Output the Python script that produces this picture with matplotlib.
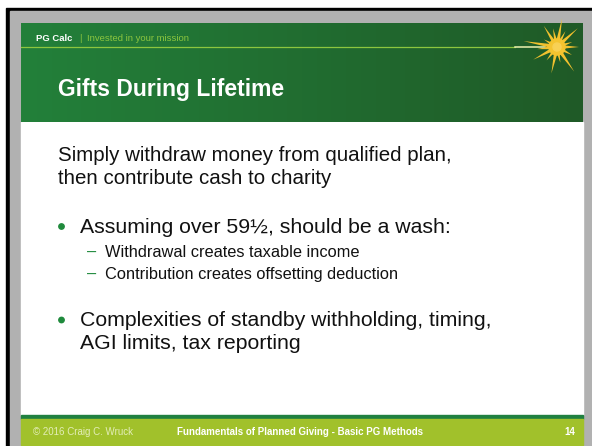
import numpy as np
import matplotlib.pyplot as plt
from matplotlib.patches import Rectangle, Polygon, Circle

plt.rcParams['font.family'] = ['Liberation Sans', 'DejaVu Sans']

# slide text
brand = 'PG Calc'
tagline = 'Invested in your mission'
title = 'Gifts During Lifetime'
intro_lines = ['Simply withdraw money from qualified plan,',
               'then contribute cash to charity']
bullet_1 = 'Assuming over 59\u00bd, should be a wash:'
sub_items = ['Withdrawal creates taxable income',
             'Contribution creates offsetting deduction']
bullet_2 = ['Complexities of standby withholding, timing,',
            'AGI limits, tax reporting']
footer_left = '\u00a9 2016 Craig C. Wruck'
footer_mid = 'Fundamentals of Planned Giving - Basic PG Methods'
page_no = '14'

W, H = 592, 446
fig = plt.figure(figsize=(W / 100, H / 100), dpi=100)
ax = fig.add_axes([0, 0, 1, 1])

# frame
ax.add_patch(Rectangle((0, 0), W, H, color='white', zorder=0))
ax.add_patch(Rectangle((6, 8), W - 6, H - 8, color='black', zorder=1))
ax.add_patch(Rectangle((10, 11), W - 10, H - 11, color='#b1b1b1', zorder=2))
ax.add_patch(Rectangle((21, 122), 562, 293, color='white', zorder=3))

# header gradient
grad = np.linspace(0, 1, 256)
c0 = np.array([35, 128, 58]) / 255
c1 = np.array([31, 90, 39]) / 255
img = c0[None, None, :] * (1 - grad[None, :, None]) + c1[None, None, :] * grad[None, :, None]
ax.imshow(img, extent=(21, 583, 122, 23), aspect='auto', zorder=3)
ax.set_xlim(0, W)
ax.set_ylim(H, 0)
ax.axis('off')

# header line
ax.plot([21, 515], [47, 47], color='#8cc63f', lw=0.9, zorder=4)
ax.plot([515, 545], [47, 47], color='#eef3b0', lw=1.1, zorder=4)

# sun
cx, cy = 557, 47
ray_angles = [0, 18, 42, 62, 80, 102, 122, 150, 170, 186, 208, 232, 258, 282, 305, 332]
ray_lens = [22, 16, 28, 18, 29, 19, 25, 15, 34, 20, 27, 17, 27, 16, 30, 17]
for ang, ln in zip(ray_angles, ray_lens):
    a = np.deg2rad(ang)
    tip = (cx + ln * np.cos(a), cy - ln * np.sin(a))
    p = a + np.pi / 2
    w = 2.3
    base1 = (cx + w * np.cos(p), cy - w * np.sin(p))
    base2 = (cx - w * np.cos(p), cy + w * np.sin(p))
    ax.add_patch(Polygon([base1, tip, base2], closed=True, color='#f2c12e', lw=0, zorder=5))
ax.add_patch(Circle((cx, cy), 8, color='#f4c430', zorder=6))
ax.add_patch(Circle((cx, cy), 4, color='#f8d155', zorder=6))

# header text
ax.text(36, 41, brand, color='white', fontsize=6.8, fontweight='bold', zorder=7)
ax.text(79, 41, '|', color='#8cc63f', fontsize=6.8, zorder=7)
ax.text(87, 41, tagline, color='#8cc63f', fontsize=6.8, zorder=7)
ax.text(58, 96, title, color='white', fontsize=16.5, fontweight='bold', zorder=7)

# body
body_color = '#111111'
green = '#1f8a3c'
for i, line in enumerate(intro_lines):
    ax.text(58, 161 + 23 * i, line, color=body_color, fontsize=14.8, zorder=7)

ax.add_patch(Circle((61.5, 226.5), 2.7, color=green, zorder=7))
ax.text(80, 233, bullet_1, color=body_color, fontsize=15.3, zorder=7)

for i, item in enumerate(sub_items):
    y = 257 + 22 * i
    ax.text(87, y, '\u2013', color=green, fontsize=11.8, zorder=7)
    ax.text(105, y, item, color=body_color, fontsize=11.8, zorder=7)

ax.add_patch(Circle((61.5, 320), 2.7, color=green, zorder=7))
for i, line in enumerate(bullet_2):
    ax.text(80, 326 + 23 * i, line, color=body_color, fontsize=15.3, zorder=7)

# footer
ax.add_patch(Rectangle((21, 415), 562, 4, color='#1f8040', zorder=4))
ax.add_patch(Rectangle((21, 419), 562, 26, color='#a1c12b', zorder=4))
ax.text(33, 432, footer_left, color='#e3edb8', fontsize=7.0, va='center', zorder=7)
ax.text(177, 432, footer_mid, color='white', fontsize=7.0, fontweight='bold', va='center', zorder=7)
ax.text(575, 432, page_no, color='white', fontsize=7.0, fontweight='bold', va='center', ha='right', zorder=7)

fig.savefig('out.png', dpi=100)
